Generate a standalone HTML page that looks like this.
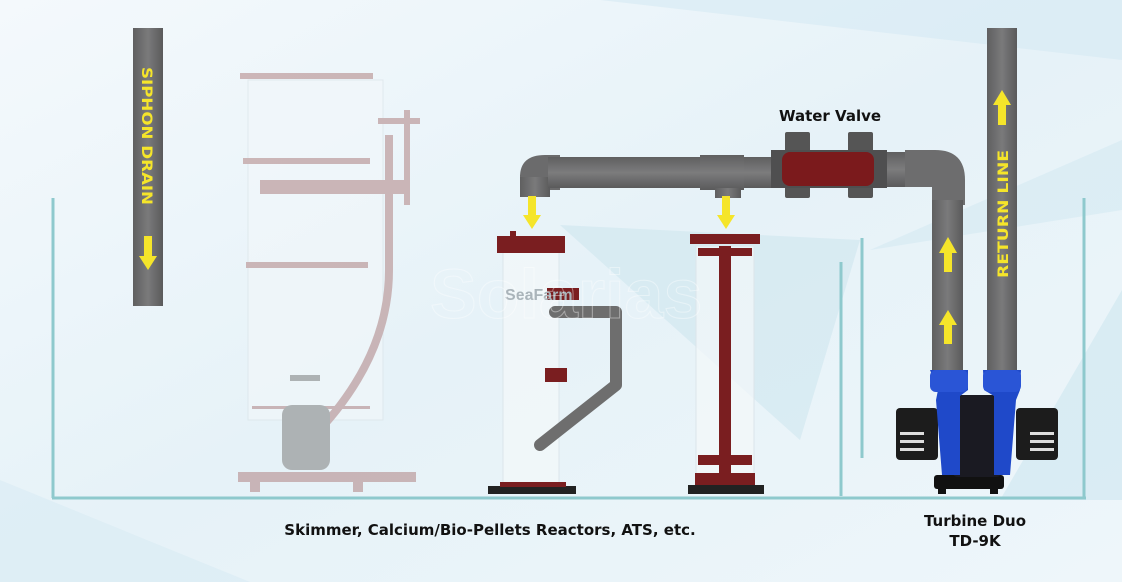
<!DOCTYPE html>
<html><head><meta charset="utf-8"><style>
html,body{margin:0;padding:0;width:1122px;height:582px;overflow:hidden;background:#eef6fa}
svg{display:block}
text{font-family:"DejaVu Sans","Liberation Sans",sans-serif;font-weight:bold}
</style></head><body>
<svg width="1122" height="582" viewBox="0 0 1122 582" xmlns="http://www.w3.org/2000/svg">
<defs>
<linearGradient id="bg" x1="0" y1="0" x2="1" y2="1">
<stop offset="0" stop-color="#f4f9fc"/><stop offset="0.5" stop-color="#e6f2f8"/><stop offset="1" stop-color="#eef6fa"/>
</linearGradient>
<linearGradient id="pipe" x1="0" y1="0" x2="1" y2="0">
<stop offset="0" stop-color="#5f5f60"/><stop offset="0.5" stop-color="#7a7a7b"/><stop offset="1" stop-color="#5a5a5b"/>
</linearGradient>
<linearGradient id="pipeh" x1="0" y1="0" x2="0" y2="1">
<stop offset="0" stop-color="#5f5f60"/><stop offset="0.5" stop-color="#7c7c7d"/><stop offset="1" stop-color="#5a5a5b"/>
</linearGradient>
</defs>
<rect width="1122" height="582" fill="url(#bg)"/>
<polygon points="600,0 1122,0 1122,60" fill="#d6eaf3" opacity="0.6"/>
<polygon points="560,225 860,240 800,440" fill="#cfe6ee" opacity="0.6"/>
<polygon points="1122,290 1000,500 1122,500" fill="#d2e8f1" opacity="0.7"/>
<polygon points="0,480 250,582 0,582" fill="#d8ebf3" opacity="0.6"/>
<polygon points="1122,140 870,250 1122,210" fill="#d4e9f1" opacity="0.6"/>

<g stroke="#8ec9cd" stroke-width="3" fill="none">
<line x1="53" y1="198" x2="53" y2="498"/>
<line x1="1084" y1="198" x2="1084" y2="498"/>
<line x1="52" y1="498" x2="1086" y2="498"/>
<line x1="841" y1="262" x2="841" y2="496"/>
<line x1="862" y1="238" x2="862" y2="458"/>
</g>

<g opacity="0.6">
<rect x="248" y="80" width="135" height="340" fill="#f2f7fa" stroke="#d8e2e6"/>
<rect x="240" y="73" width="133" height="6" fill="#b58c8c"/>
<rect x="243" y="158" width="127" height="6" fill="#b58c8c"/>
<rect x="260" y="180" width="150" height="14" fill="#b58c8c"/>
<rect x="246" y="262" width="122" height="6" fill="#b58c8c"/>
<rect x="252" y="406" width="118" height="3" fill="#b58c8c"/>
<rect x="378" y="118" width="42" height="6" fill="#b58c8c"/>
<rect x="404" y="110" width="6" height="95" fill="#b58c8c"/>
<path d="M389 135 L389 270 Q389 360 310 440" stroke="#b58c8c" stroke-width="8" fill="none"/>
<rect x="282" y="405" width="48" height="65" rx="10" fill="#888"/>
<rect x="290" y="375" width="30" height="6" fill="#888"/>
<rect x="238" y="472" width="178" height="10" fill="#b58c8c"/>
<rect x="250" y="482" width="10" height="10" fill="#b58c8c"/>
<rect x="353" y="482" width="10" height="10" fill="#b58c8c"/>
</g>

<rect x="133" y="28" width="30" height="278" fill="url(#pipe)"/>
<text x="0" y="0" transform="translate(142,67) rotate(90)" font-size="14.5" fill="#f5e52a" textLength="138" lengthAdjust="spacingAndGlyphs">SIPHON DRAIN</text>
<polygon points="144,236 152,236 152,256 157,256 148,270 139,256 144,256" fill="#f5e52a"/>

<rect x="987" y="28" width="30" height="345" fill="url(#pipe)"/>
<text x="0" y="0" transform="translate(1008,278) rotate(-90)" font-size="14.5" fill="#f5e52a" textLength="128" lengthAdjust="spacingAndGlyphs">RETURN LINE</text>
<polygon points="998,125 1006,125 1006,105 1011,105 1002,90 993,105 998,105" fill="#f5e52a"/>

<rect x="503" y="252" width="56" height="236" fill="#f3f8fa" fill-opacity="0.7" stroke="#dbe5ea"/>
<rect x="497" y="236" width="68" height="17" fill="#7a1e20"/>
<rect x="510" y="231" width="6" height="6" fill="#7a1e20"/>
<rect x="547" y="288" width="32" height="12" fill="#7a1e20"/>
<rect x="545" y="368" width="22" height="14" fill="#7a1e20"/>
<path d="M555 312 L616 312 L616 385 L540 445" stroke="#6e6e6e" stroke-width="12" fill="none" stroke-linejoin="round" stroke-linecap="round"/>
<rect x="488" y="486" width="88" height="8" fill="#222"/>
<rect x="500" y="482" width="66" height="5" fill="#7a1e20"/>

<rect x="696" y="246" width="58" height="240" fill="#f3f8fa" fill-opacity="0.7" stroke="#dbe5ea"/>
<rect x="690" y="234" width="70" height="10" fill="#7a1e20"/>
<rect x="698" y="248" width="54" height="8" fill="#7a1e20"/>
<rect x="719" y="246" width="12" height="230" fill="#7a1e20"/>
<rect x="698" y="455" width="54" height="10" fill="#7a1e20"/>
<rect x="695" y="473" width="60" height="12" fill="#7a1e20"/>
<rect x="688" y="485" width="76" height="9" fill="#222"/>

<rect x="520" y="175" width="30" height="22" fill="url(#pipe)"/>
<path d="M520 177 Q520 155 545 155 L560 155 L560 190 L550 190 L550 177 Z" fill="#6b6b6c"/>
<rect x="548" y="157" width="232" height="31" fill="url(#pipeh)"/>
<rect x="700" y="155" width="44" height="35" fill="url(#pipeh)"/>
<rect x="715" y="188" width="26" height="10" fill="url(#pipe)"/>
<rect x="885" y="152" width="30" height="35" fill="url(#pipeh)"/>
<path d="M905 150 L935 150 Q965 150 965 180 L965 205 L932 205 L932 187 L905 187 Z" fill="#6d6d6e"/>
<rect x="932" y="200" width="31" height="172" fill="url(#pipe)"/>
<rect x="785" y="132" width="25" height="66" rx="2" fill="#555"/>
<rect x="848" y="132" width="25" height="66" rx="2" fill="#555"/>
<rect x="771" y="150" width="116" height="38" fill="#4f4f50"/>
<rect x="782" y="152" width="92" height="34" rx="8" fill="#7b1a1c"/>

<polygon points="528,196 536,196 536,215 541,215 532,229 523,215 528,215" fill="#f5e52a"/>
<polygon points="722,196 730,196 730,215 735,215 726,229 717,215 722,215" fill="#f5e52a"/>
<polygon points="944,272 952,272 952,253 957,253 948,237 939,253 944,253" fill="#f5e52a"/>
<polygon points="944,344 952,344 952,325 957,325 948,310 939,325 944,325" fill="#f5e52a"/>

<rect x="934" y="475" width="70" height="14" rx="3" fill="#111"/>
<rect x="938" y="488" width="8" height="6" fill="#111"/>
<rect x="990" y="488" width="8" height="6" fill="#111"/>
<rect x="952" y="395" width="50" height="82" rx="6" fill="#1a1a22"/>
<rect x="896" y="408" width="42" height="52" rx="4" fill="#1c1c1c"/>
<rect x="1016" y="408" width="42" height="52" rx="4" fill="#1c1c1c"/>
<g fill="#ddd"><rect x="900" y="432" width="24" height="3"/><rect x="900" y="440" width="24" height="3"/><rect x="900" y="448" width="24" height="3"/>
<rect x="1030" y="432" width="24" height="3"/><rect x="1030" y="440" width="24" height="3"/><rect x="1030" y="448" width="24" height="3"/></g>
<path d="M930 370 L968 370 L968 390 L960 396 L960 475 L942 475 L936 400 L938 390 Z" fill="#1f49c9"/>
<path d="M983 370 L1021 370 L1020 390 L1016 400 L1010 475 L994 475 L994 396 L984 390 Z" fill="#1f49c9"/>
<rect x="930" y="370" width="38" height="22" rx="6" fill="#2a55d6"/>
<rect x="983" y="370" width="38" height="22" rx="6" fill="#2a55d6"/>

<text x="505" y="300" font-size="16" fill="#aab4ba" font-weight="normal" style="font-family:'Liberation Sans',sans-serif">SeaFarm</text>
<text x="430" y="318" font-size="70" fill="none" stroke="#ffffff" stroke-width="1" opacity="0.4" font-weight="normal" style="font-family:'Liberation Sans',sans-serif">Solarias</text>

<text x="830" y="121" font-size="15" text-anchor="middle" fill="#111">Water Valve</text>
<text x="490" y="535" font-size="15" text-anchor="middle" fill="#111">Skimmer, Calcium/Bio-Pellets Reactors, ATS, etc.</text>
<text x="975" y="526" font-size="15" text-anchor="middle" fill="#111">Turbine Duo</text>
<text x="975" y="546" font-size="15" text-anchor="middle" fill="#111">TD-9K</text>
</svg>
</body></html>
